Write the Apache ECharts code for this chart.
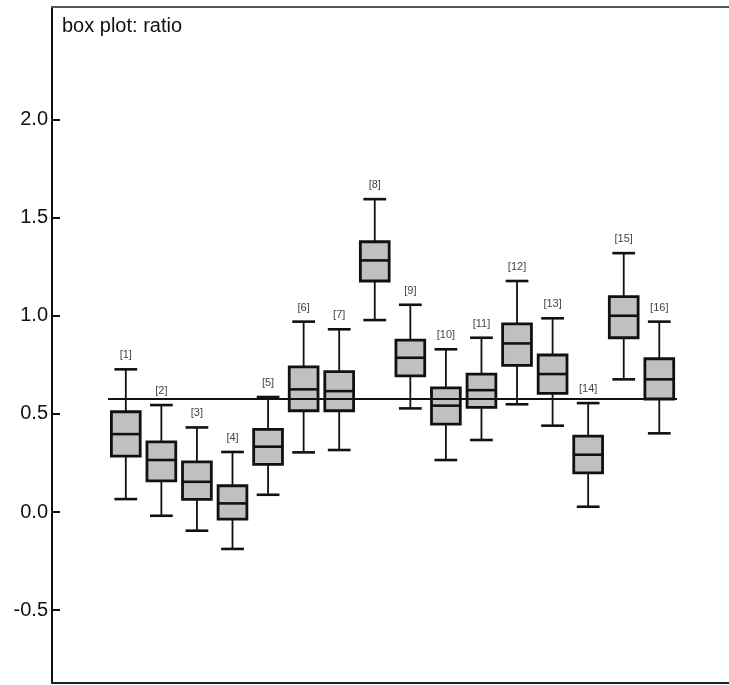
<!DOCTYPE html>
<html>
<head>
<meta charset="utf-8">
<script src="https://cdn.jsdelivr.net/npm/echarts@6/dist/echarts.min.js"></script>
<style>
  html, body { margin: 0; padding: 0; background: #fff; }
  #chart { width: 729px; height: 685px; }
</style>
</head>
<body>
<div id="chart"></div>
<script>
// Group labels
const groups = ['[1]', '[2]', '[3]', '[4]', '[5]', '[6]', '[7]', '[8]',
                '[9]', '[10]', '[11]', '[12]', '[13]', '[14]', '[15]', '[16]'];
// Five-number summaries for each group
const whiskerLow  = [0.066, -0.019, -0.095, -0.188, 0.088, 0.304, 0.316, 0.978, 0.528, 0.265, 0.367, 0.549, 0.440, 0.027, 0.676, 0.401];
const q1          = [0.285, 0.159, 0.065, -0.036, 0.243, 0.516, 0.516, 1.177, 0.694, 0.448, 0.533, 0.747, 0.605, 0.200, 0.888, 0.576];
const median      = [0.397, 0.265, 0.154, 0.044, 0.333, 0.625, 0.616, 1.282, 0.786, 0.542, 0.621, 0.859, 0.703, 0.292, 1.000, 0.676];
const q3          = [0.511, 0.357, 0.256, 0.134, 0.421, 0.740, 0.715, 1.377, 0.876, 0.633, 0.703, 0.959, 0.800, 0.387, 1.097, 0.781];
const whiskerHigh = [0.727, 0.545, 0.431, 0.306, 0.586, 0.970, 0.931, 1.594, 1.056, 0.829, 0.888, 1.177, 0.987, 0.555, 1.319, 0.970];
// Overall reference level drawn across the groups
const refValue = 0.575;
// Y-axis tick labels
const yTicks = [-0.5, 0.0, 0.5, 1.0, 1.5, 2.0];

const boxData = groups.map((g, i) => [i + 1, whiskerLow[i], q1[i], median[i], q3[i], whiskerHigh[i]]);

function renderBox(params, api) {
  const x = api.value(0);
  const lo = api.coord([x, api.value(1)]);
  const b1 = api.coord([x, api.value(2)]);
  const md = api.coord([x, api.value(3)]);
  const b3 = api.coord([x, api.value(4)]);
  const hi = api.coord([x, api.value(5)]);
  const unit = api.size([1, 0])[0];
  const boxW = unit * 0.81;
  const capW = unit * 0.64;
  const cx = lo[0];
  const ink = '#111';
  return {
    type: 'group',
    children: [
      { type: 'line', shape: { x1: cx, y1: hi[1], x2: cx, y2: b3[1] }, style: { stroke: ink, lineWidth: 1.8 } },
      { type: 'line', shape: { x1: cx, y1: b1[1], x2: cx, y2: lo[1] }, style: { stroke: ink, lineWidth: 1.8 } },
      { type: 'line', shape: { x1: cx - capW / 2, y1: hi[1], x2: cx + capW / 2, y2: hi[1] }, style: { stroke: ink, lineWidth: 2.6 } },
      { type: 'line', shape: { x1: cx - capW / 2, y1: lo[1], x2: cx + capW / 2, y2: lo[1] }, style: { stroke: ink, lineWidth: 2.6 } },
      { type: 'rect', shape: { x: cx - boxW / 2, y: b3[1], width: boxW, height: b1[1] - b3[1] },
        style: { fill: '#c0c0c0', stroke: ink, lineWidth: 2.8 } },
      { type: 'line', shape: { x1: cx - boxW / 2, y1: md[1], x2: cx + boxW / 2, y2: md[1] }, style: { stroke: ink, lineWidth: 2.6 } },
      { type: 'text', x: cx, y: hi[1] - 14,
        style: { text: groups[params.dataIndex], fill: '#444', font: '11px "Liberation Sans", Arial, sans-serif',
                 align: 'center', verticalAlign: 'middle' } }
    ]
  };
}

const hiddenX = {
  type: 'value', min: -1.075, max: 17.96,
  axisTick: { show: false }, axisLabel: { show: false }, splitLine: { show: false }
};

const chart = echarts.init(document.getElementById('chart'));
chart.setOption({
  animation: false,
  backgroundColor: '#fff',
  title: {
    text: 'box plot: ratio',
    left: 57, top: 11,
    textStyle: { fontFamily: '"Liberation Sans", Arial, sans-serif', fontSize: 20, fontWeight: 'normal', color: '#111' }
  },
  grid: { left: 52, right: 0, top: 7, bottom: 2, show: false },
  xAxis: [
    Object.assign({}, hiddenX, { position: 'bottom', axisLine: { show: true, onZero: false, lineStyle: { color: '#222', width: 2 } } }),
    Object.assign({}, hiddenX, { position: 'top', axisLine: { show: true, onZero: false, lineStyle: { color: '#555', width: 2 } } })
  ],
  yAxis: {
    type: 'value', min: -0.871, max: 2.573,
    axisLine: { show: true, onZero: false, lineStyle: { color: '#111', width: 2 } },
    axisTick: { show: true, inside: true, length: 8, customValues: yTicks, lineStyle: { color: '#111', width: 2 } },
    axisLabel: {
      customValues: yTicks, margin: 4,
      formatter: v => v.toFixed(1),
      fontFamily: '"Liberation Sans", Arial, sans-serif', fontSize: 20, color: '#111'
    },
    splitLine: { show: false }
  },
  series: [
    {
      type: 'custom',
      renderItem: renderBox,
      data: boxData,
      encode: { x: 0, y: [1, 2, 3, 4, 5] },
      z: 3
    },
    {
      type: 'line',
      data: [],
      markLine: {
        silent: true, symbol: 'none', label: { show: false },
        lineStyle: { color: '#111', width: 2.2, type: 'solid' },
        data: [[{ coord: [0.5, refValue] }, { coord: [groups.length + 0.5, refValue] }]]
      },
      z: 2
    }
  ]
});
</script>
</body>
</html>
